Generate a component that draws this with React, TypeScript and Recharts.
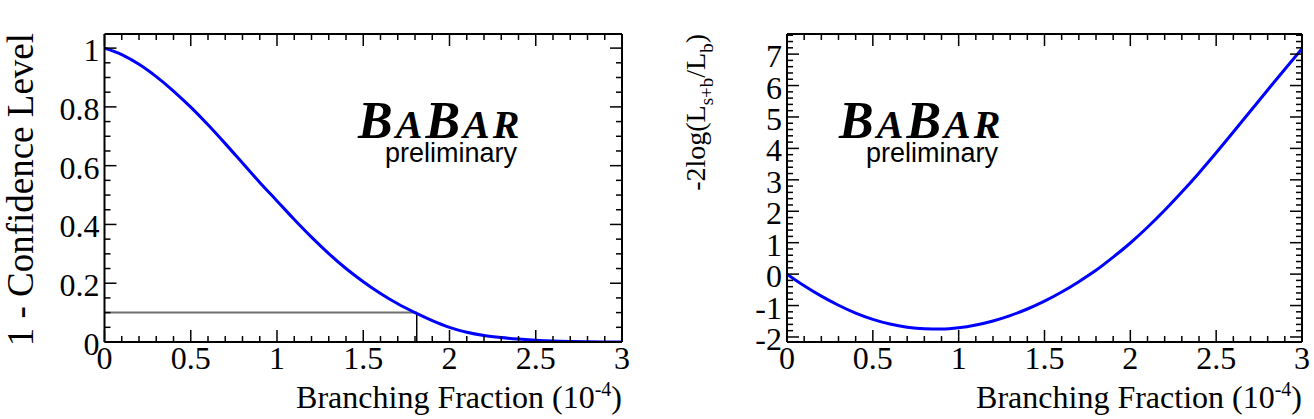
import React from 'react'
import { LineChart, Line, XAxis, YAxis, ReferenceLine, Label } from 'recharts'

// branching fraction grid (units of 1e-4)
const branchingFraction = [
  0, 0.1, 0.2, 0.3, 0.4, 0.5, 0.6, 0.7, 0.8, 0.9, 1.0, 1.1, 1.2, 1.3, 1.4, 1.5,
  1.6, 1.7, 1.8, 1.9, 2.0, 2.1, 2.2, 2.3, 2.4, 2.5, 2.6, 2.7, 2.8, 2.9, 3.0,
]
// 1 - CL, left pad
const oneMinusCL = [
  1.0, 0.978, 0.945, 0.903, 0.854, 0.799, 0.739, 0.675, 0.609, 0.543, 0.48,
  0.417, 0.357, 0.301, 0.25, 0.205, 0.165, 0.13, 0.1, 0.073, 0.05, 0.033,
  0.022, 0.015, 0.01, 0.006, 0.003, 0.0015, 0.0007, 0.0003, 0.0001,
]
// -2 log(Ls+b/Lb), right pad
const deltaLogL = [
  0.0, -0.37, -0.7, -0.99, -1.24, -1.44, -1.59, -1.69, -1.74, -1.75, -1.71,
  -1.62, -1.49, -1.32, -1.11, -0.86, -0.57, -0.24, 0.12, 0.54, 0.99, 1.49,
  2.03, 2.61, 3.22, 3.86, 4.52, 5.19, 5.86, 6.52, 7.17,
]

const upperLimit = 1.81
const clLevel = 0.1

const xMajor = [0, 0.5, 1, 1.5, 2, 2.5, 3]
const clMajor = [0, 0.2, 0.4, 0.6, 0.8, 1]
const llMajor = [-2, -1, 0, 1, 2, 3, 4, 5, 6, 7]

function steps(from: number, to: number, step: number) {
  const out: number[] = []
  for (let v = from; v <= to + 1e-9; v += step) out.push(Math.round(v * 1000) / 1000)
  return out
}

const xTicks = steps(0, 3, 0.1)
const clTicks = steps(0, 1, 0.05)
const llTicks = steps(-2, 7.6, 0.2)

const clData = branchingFraction.map((x, i) => ({ x, y: oneMinusCL[i] }))
const llData = branchingFraction.map((x, i) => ({ x, y: deltaLogL[i] }))

const serif = '"Liberation Serif", "Times New Roman", serif'
const sans = '"Liberation Sans", Arial, sans-serif'
const serifStyle = { fontFamily: serif }

type Side = 'bottom' | 'top' | 'left' | 'right'

function makeTick(side: Side, majors: number[], labels: boolean) {
  return (props: any) => {
    const { x, y, payload } = props
    const v = payload.value
    const major = majors.some((m) => Math.abs(m - v) < 1e-6)
    const len = major ? 12 : 6
    let line
    if (side === 'bottom') line = <line x1={x} y1={y} x2={x} y2={y - len} />
    else if (side === 'top') line = <line x1={x} y1={y} x2={x} y2={y + len} />
    else if (side === 'left') line = <line x1={x} y1={y} x2={x + len} y2={y} />
    else line = <line x1={x} y1={y} x2={x - len} y2={y} />
    let text = null
    if (labels && major) {
      if (side === 'bottom')
        text = (
          <text x={x} y={y + 27} textAnchor='middle' fontSize={32} style={serifStyle} fill='#000'>
            {String(v)}
          </text>
        )
      else
        text = (
          <text x={x - 5} y={y + 13} textAnchor='end' fontSize={32} style={serifStyle} fill='#000'>
            {String(v)}
          </text>
        )
    }
    return (
      <g>
        <g stroke='#000' strokeWidth={1.5}>{line}</g>
        {text}
      </g>
    )
  }
}

const axisLine = { stroke: '#000', strokeWidth: 2 }

function Logo({ x }: { x: number }) {
  return (
    <g>
      <text x={x} y={138} fill='#000' style={{ fontFamily: serif, fontStyle: 'italic', fontWeight: 'bold', letterSpacing: 3 }}>
        <tspan fontSize={52}>B</tspan>
        <tspan fontSize={40}>A</tspan>
        <tspan fontSize={52}>B</tspan>
        <tspan fontSize={40}>AR</tspan>
      </text>
      <text x={x + 27} y={162} fill='#000' fontSize={27} style={{ fontFamily: sans }}>
        preliminary
      </text>
    </g>
  )
}

export default function App(): JSX.Element {
  return (
    <div style={{ position: 'absolute', left: 0, top: 0, width: 1314, height: 419, background: '#fff' }}>
      <div style={{ position: 'absolute', left: 0, top: 0 }}>
        <LineChart width={660} height={419} data={clData} margin={{ top: 24, right: 28, bottom: 37, left: 44.5 }}>
          <XAxis xAxisId='b' dataKey='x' type='number' domain={[0, 3]} allowDataOverflow ticks={xTicks} interval={0}
            height={40} tickSize={0} tickMargin={0} tickLine={false} axisLine={axisLine} tick={makeTick('bottom', xMajor, true)}>
            <Label content={() => (
              <text x={622} y={408} textAnchor='end' fontSize={32} style={serifStyle} fill='#000'>
                Branching Fraction (10<tspan dy={-12} fontSize={20}>-4</tspan><tspan dy={12}>)</tspan>
              </text>
            )} />
          </XAxis>
          <XAxis xAxisId='t' orientation='top' dataKey='x' type='number' domain={[0, 3]} allowDataOverflow ticks={xTicks} interval={0}
            height={10} tickSize={0} tickMargin={0} tickLine={false} axisLine={axisLine} tick={makeTick('top', xMajor, false)} />
          <YAxis yAxisId='l' type='number' domain={[0, 1.048]} allowDataOverflow ticks={clTicks} interval={0}
            width={60} tickSize={0} tickMargin={0} tickLine={false} axisLine={axisLine} tick={makeTick('left', clMajor, true)}>
            <Label content={() => (
              <text x={33} y={33} transform='rotate(-90 33 33)' textAnchor='end' fontSize={37} style={serifStyle} fill='#000'>
                1 - Confidence Level
              </text>
            )} />
          </YAxis>
          <YAxis yAxisId='r' orientation='right' type='number' domain={[0, 1.048]} allowDataOverflow ticks={clTicks} interval={0}
            width={10} tickSize={0} tickMargin={0} tickLine={false} axisLine={axisLine} tick={makeTick('right', clMajor, false)} />
          <ReferenceLine xAxisId='b' yAxisId='l' segment={[{ x: 0, y: clLevel }, { x: upperLimit, y: clLevel }]} stroke='#6e6e6e' strokeWidth={2} />
          <ReferenceLine xAxisId='b' yAxisId='l' segment={[{ x: upperLimit, y: 0 }, { x: upperLimit, y: clLevel }]} stroke='#000' strokeWidth={1.5} />
          <Line xAxisId='b' yAxisId='l' dataKey='y' type='monotone' stroke='#0000ff' strokeWidth={3} dot={false} isAnimationActive={false} />
          <Line xAxisId='t' yAxisId='r' dataKey='y' type='monotone' stroke='none' dot={false} isAnimationActive={false} />
        </LineChart>
      </div>
      <div style={{ position: 'absolute', left: 660, top: 0 }}>
        <LineChart width={654} height={419} data={llData} margin={{ top: 24, right: 2, bottom: 37, left: 67 }}>
          <XAxis xAxisId='b' dataKey='x' type='number' domain={[0, 3]} allowDataOverflow ticks={xTicks} interval={0}
            height={40} tickSize={0} tickMargin={0} tickLine={false} axisLine={axisLine} tick={makeTick('bottom', xMajor, true)}>
            <Label content={() => (
              <text x={642} y={408} textAnchor='end' fontSize={32} style={serifStyle} fill='#000'>
                Branching Fraction (10<tspan dy={-12} fontSize={20}>-4</tspan><tspan dy={12}>)</tspan>
              </text>
            )} />
          </XAxis>
          <XAxis xAxisId='t' orientation='top' dataKey='x' type='number' domain={[0, 3]} allowDataOverflow ticks={xTicks} interval={0}
            height={10} tickSize={0} tickMargin={0} tickLine={false} axisLine={axisLine} tick={makeTick('top', xMajor, false)} />
          <YAxis yAxisId='l' type='number' domain={[-2.16, 7.64]} allowDataOverflow ticks={llTicks} interval={0}
            width={60} tickSize={0} tickMargin={0} tickLine={false} axisLine={axisLine} tick={makeTick('left', llMajor, true)}>
            <Label content={() => (
              <text x={45} y={34} transform='rotate(-90 45 34)' textAnchor='end' fontSize={28} style={serifStyle} fill='#000'>
                -2log(L<tspan dy={8} fontSize={19}>s+b</tspan><tspan dy={-8}>/L</tspan><tspan dy={8} fontSize={19}>b</tspan><tspan dy={-8}>)</tspan>
              </text>
            )} />
          </YAxis>
          <YAxis yAxisId='r' orientation='right' type='number' domain={[-2.16, 7.64]} allowDataOverflow ticks={llTicks} interval={0}
            width={10} tickSize={0} tickMargin={0} tickLine={false} axisLine={axisLine} tick={makeTick('right', llMajor, false)} />
          <Line xAxisId='b' yAxisId='l' dataKey='y' type='monotone' stroke='#0000ff' strokeWidth={3} dot={false} isAnimationActive={false} />
          <Line xAxisId='t' yAxisId='r' dataKey='y' type='monotone' stroke='none' dot={false} isAnimationActive={false} />
        </LineChart>
      </div>
      <svg width={1314} height={419} style={{ position: 'absolute', left: 0, top: 0, pointerEvents: 'none' }}>
        <Logo x={358} />
        <Logo x={839} />
      </svg>
    </div>
  )
}
